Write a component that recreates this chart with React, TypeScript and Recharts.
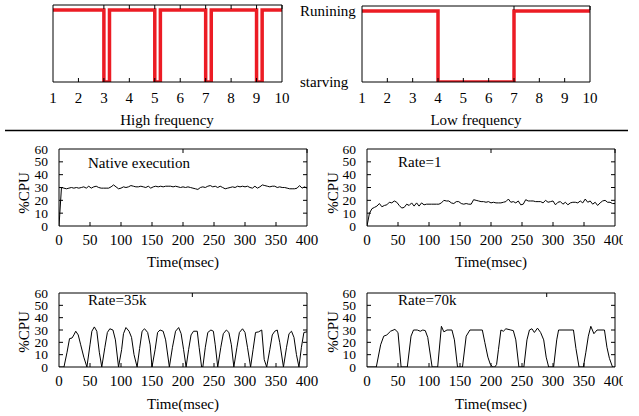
import React from "react";
import { LineChart, Line, XAxis, YAxis } from "recharts";

const FONT = "'Liberation Serif', 'DejaVu Serif', serif";
const INK = "#000";
const RED = "#ec1c24";

// top row: running / starving state traces
const stateTicksX = [1, 2, 3, 4, 5, 6, 7, 8, 9, 10];
const highFreqX = [1, 3, 3.22, 5, 5.22, 7, 7.22, 9, 9.22, 10];
const highFreqState = [1, 0, 1, 0, 1, 0, 1, 0, 1, 1];
const lowFreqX = [1, 4, 7, 10];
const lowFreqState = [1, 0, 1, 1];
const stateTicksY = [0, 1];
const stateNames = ["starving", "Runining"];

// bottom rows: %CPU over time
const timeTicks = [0, 50, 100, 150, 200, 250, 300, 350, 400];
const cpuTicks = [0, 10, 20, 30, 40, 50, 60];

const sampleTimes = [
  0, 4, 8, 12, 16, 20, 24, 28, 32, 36, 40, 44, 48, 52, 56, 60, 64, 68, 72, 76,
  80, 84, 88, 92, 96, 100, 104, 108, 112, 116, 120, 124, 128, 132, 136, 140,
  144, 148, 152, 156, 160, 164, 168, 172, 176, 180, 184, 188, 192, 196, 200,
  204, 208, 212, 216, 220, 224, 228, 232, 236, 240, 244, 248, 252, 256, 260,
  264, 268, 272, 276, 280, 284, 288, 292, 296, 300, 304, 308, 312, 316, 320,
  324, 328, 332, 336, 340, 344, 348, 352, 356, 360, 364, 368, 372, 376, 380,
  384, 388, 392, 396, 400,
];

const nativeCpu = [
  0, 30, 29.5, 29, 29.5, 30, 29.5, 30, 29.5, 30, 30.5, 29.5, 31, 29.5, 30.5,
  31, 30, 29.5, 29.5, 29.5, 29.5, 30.5, 32, 30.5, 29, 29.5, 30.5, 30, 30.5,
  31.5, 31, 30.5, 30.5, 31, 30.5, 30, 31, 29.5, 30.5, 31, 30.5, 31, 30.5, 31,
  31, 31, 30.5, 31, 30.5, 30, 30.5, 30, 30.5, 30, 29.5, 29, 28.5, 30, 30.5, 30,
  31, 31.5, 30.5, 31, 30, 31, 30, 29, 29.5, 30, 30.5, 30, 31, 30.5, 31, 30.5,
  31, 30, 29.5, 31, 29.5, 30.5, 32, 31.5, 31, 30.5, 31, 31, 30, 30.5, 30, 30,
  29.5, 29, 29, 29, 29.5, 31.5, 29.5, 30.5, 29.5,
];

const rate1Cpu = [
  0, 10, 13.5, 14.5, 15.5, 17.5, 15, 16, 16.5, 18.5, 18, 19.5, 18.5, 16, 14,
  14.5, 17, 16, 18, 15.5, 18, 15.5, 18, 16.5, 17, 17, 17, 17, 17, 17, 18, 20,
  19.5, 19.5, 18, 17.5, 19, 19, 17.5, 17, 17.5, 17, 17, 20.5, 20, 19.5, 19, 19,
  18.5, 19, 18, 18.5, 18, 18, 18, 18.5, 19, 21, 18.5, 19, 18, 19.5, 16.5, 17,
  20.5, 19.5, 19.5, 19.5, 19, 19, 19, 18, 20, 18.5, 19, 19.5, 16.5, 18.5, 19,
  17, 18.5, 16.5, 18, 18.5, 18.5, 18, 19.5, 18, 21, 18.5, 19.5, 17, 18.5, 16,
  18, 19.5, 20, 18.5, 18.5, 17.5, 17.5,
];

const rate35kTime = [
  0, 8, 13, 17, 21, 24, 27, 31, 35, 40, 45,
  50, 53, 57, 61, 65, 69,
  74, 78, 82, 87, 91, 96,
  101, 104, 108, 113, 117, 121, 126,
  130, 134, 138, 143, 147, 150,
  155, 159, 163, 168, 172, 178,
  183, 188, 193, 197, 201, 205,
  209, 213, 217, 223, 226, 230, 232,
  236, 240, 245, 249, 252, 256,
  261, 265, 270, 274, 278, 282,
  287, 291, 296, 300, 304, 309,
  313, 317, 322, 327, 331, 335,
  340, 344, 348, 352, 356, 362,
  367, 371, 375, 379, 383, 387,
  391, 395, 400,
];
const rate35kCpu = [
  0, 0, 12, 23, 23.5, 26, 29, 26, 18, 8, 0,
  18, 29, 32.5, 29, 12, 0,
  16, 28, 31, 30, 22, 0,
  14, 27, 32, 29, 24, 10, 0,
  15, 29, 31, 28, 18, 0,
  14, 28, 30, 29, 22, 0,
  16, 29, 32, 27, 14, 0,
  14, 26, 29, 29, 16, 0, 0,
  16, 28, 30, 29, 18, 0,
  16, 27, 30, 28, 18, 0,
  16, 28, 31, 28, 16, 0,
  14, 28, 28.5, 30, 6, 0,
  14, 26, 29, 30, 20, 0,
  16, 27, 29, 24, 10, 0,
  16, 28, 28.5,
];

const rate70kTime = [
  0, 15, 22, 27, 32, 38, 45, 50, 55, 65, 71, 75, 81, 86, 90, 94, 98, 105, 114,
  120, 124, 129, 137, 141, 146, 154, 160, 166, 186, 190, 195, 199, 203, 206,
  209, 212, 216, 220, 224, 232, 236, 240, 245, 253, 258, 262, 266, 270, 275,
  280, 285, 289, 293, 301, 306, 309, 333, 337, 342, 349, 353, 357, 361, 366,
  371, 383, 387, 391, 396, 400,
];
const rate70kCpu = [
  0, 0, 18, 25, 26, 29, 30.5, 28, 0, 0, 25, 30, 30, 29, 30, 29.5, 24, 0, 0,
  33, 28.5, 30, 30, 22, 0, 0, 25, 30, 30, 20, 8, 2, 0, 0,
  2, 14, 30, 29, 31, 30, 29.5, 22, 0, 0, 22, 30, 31, 28, 31.5,
  28, 22, 8, 0, 0, 22, 30, 30, 15, 0, 0, 12, 25, 33, 27,
  30, 30, 16, 7, 0, 0,
];

const rows = (xs: number[], ys: number[], kx: string, ky: string) =>
  xs.map((x, i) => ({ [kx]: x, [ky]: ys[i] }));

const fontStyle = { fontFamily: FONT };

const bottomTick = (lo: number, hi: number, dy: number) => (p: any) => {
  const v = p.payload.value;
  return (
    <g>
      {v !== lo && v !== hi && (
        <line x1={p.x} x2={p.x} y1={p.y} y2={p.y - 4} stroke={INK} />
      )}
      <text x={p.x} y={p.y + dy} textAnchor="middle" fontSize={15} style={fontStyle} fill={INK}>
        {v}
      </text>
    </g>
  );
};

const topTick = (lo: number, hi: number) => (p: any) => {
  const v = p.payload.value;
  if (v === lo || v === hi) return <g />;
  return <line x1={p.x} x2={p.x} y1={p.y} y2={p.y + 4} stroke={INK} />;
};

const leftTick = (lo: number, hi: number) => (p: any) => {
  const v = p.payload.value;
  return (
    <g>
      {v !== lo && v !== hi && (
        <line x1={p.x} x2={p.x + 4} y1={p.y} y2={p.y} stroke={INK} />
      )}
      <text x={p.x - 11} y={p.y + 4.5} textAnchor="end" fontSize={13.5} style={fontStyle} fill={INK}>
        {v}
      </text>
    </g>
  );
};

const rightTick = (lo: number, hi: number) => (p: any) => {
  const v = p.payload.value;
  if (v === lo || v === hi) return <g />;
  return <line x1={p.x} x2={p.x - 4} y1={p.y} y2={p.y} stroke={INK} />;
};

function StatePanel(props: {
  left: number; width: number; padL: number; padR: number; padT: number;
  xs: number[]; ys: number[]; showNames?: boolean;
}) {
  const data = rows(props.xs, props.ys, "x", "s");
  const nameTick = (p: any) => (
    <text x={p.x - props.padL} y={p.y + 5} textAnchor="start" fontSize={15} style={fontStyle} fill={INK}>
      {stateNames[p.payload.value]}
    </text>
  );
  return (
    <div style={{ position: "absolute", left: props.left, top: 0 }}>
      <LineChart width={props.width} height={130} data={data} margin={{ top: 0, right: 0, bottom: 0, left: 0 }}>
        <XAxis dataKey="x" type="number" domain={[1, 10]} ticks={stateTicksX} interval={0}
          height={48} tickSize={0} tickMargin={0} tickLine={false} axisLine={{ stroke: INK }}
          tick={bottomTick(1, 10, 21)} allowDataOverflow />
        <XAxis xAxisId="top" orientation="top" type="number" domain={[1, 10]} ticks={stateTicksX}
          interval={0} height={props.padT} tickSize={0} tickMargin={0} tickLine={false}
          axisLine={{ stroke: INK }} tick={topTick(1, 10)} allowDataOverflow />
        <YAxis type="number" domain={[0, 1.07]} ticks={stateTicksY} interval={0} width={props.padL}
          tickSize={0} tickMargin={0} tickLine={false} axisLine={{ stroke: INK }}
          tick={props.showNames ? nameTick : false} allowDataOverflow />
        <YAxis yAxisId="right" orientation="right" type="number" domain={[0, 1.07]} width={props.padR}
          tickLine={false} tick={false} axisLine={{ stroke: INK }} allowDataOverflow />
        <Line dataKey="s" type="stepAfter" stroke={RED} strokeWidth={3.5} dot={false}
          isAnimationActive={false} />
      </LineChart>
    </div>
  );
}

function CpuPanel(props: {
  left: number; top: number; width: number; height: number;
  padL: number; padR: number; padT: number; padB: number;
  times: number[]; cpu: number[];
}) {
  const data = rows(props.times, props.cpu, "t", "v");
  return (
    <div style={{ position: "absolute", left: props.left, top: props.top }}>
      <LineChart width={props.width} height={props.height} data={data} margin={{ top: 0, right: 0, bottom: 0, left: 0 }}>
        <XAxis dataKey="t" type="number" domain={[0, 400]} ticks={timeTicks} interval={0}
          height={props.padB} tickSize={0} tickMargin={0} tickLine={false} axisLine={{ stroke: INK }}
          tick={bottomTick(0, 400, 19)} allowDataOverflow />
        <XAxis xAxisId="top" orientation="top" type="number" domain={[0, 400]} ticks={timeTicks}
          interval={0} height={props.padT} tickSize={0} tickMargin={0} tickLine={false}
          axisLine={{ stroke: INK }} tick={topTick(0, 400)} allowDataOverflow />
        <YAxis type="number" domain={[0, 60]} ticks={cpuTicks} interval={0} width={props.padL}
          tickSize={0} tickMargin={0} tickLine={false} axisLine={{ stroke: INK }}
          tick={leftTick(0, 60)} allowDataOverflow />
        <YAxis yAxisId="right" orientation="right" type="number" domain={[0, 60]} ticks={cpuTicks}
          interval={0} width={props.padR} tickSize={0} tickMargin={0} tickLine={false}
          axisLine={{ stroke: INK }} tick={rightTick(0, 60)} allowDataOverflow />
        <Line dataKey="v" type="linear" stroke={INK} strokeWidth={1} dot={false}
          isAnimationActive={false} />
      </LineChart>
    </div>
  );
}

const txt = { style: fontStyle, fontSize: 15, fill: INK };

export default function App() {
  return (
    <div style={{ position: "absolute", left: 0, top: 0, width: 639, height: 416, background: "#fff" }}>
      <div style={{ position: "absolute", left: 0, top: 0, width: 623, height: 416, overflow: "hidden" }}>
        <StatePanel left={0} width={300} padL={53} padR={18} padT={5} xs={highFreqX} ys={highFreqState} />
        <StatePanel left={300} width={339} padL={62} padR={49} padT={6} xs={lowFreqX} ys={lowFreqState} showNames />
        <CpuPanel left={0} top={140} width={320} height={140} padL={59} padR={13} padT={9} padB={54}
          times={sampleTimes} cpu={nativeCpu} />
        <CpuPanel left={320} top={140} width={319} height={140} padL={47} padR={24} padT={9} padB={54}
          times={sampleTimes} cpu={rate1Cpu} />
        <CpuPanel left={0} top={280} width={320} height={136} padL={59} padR={13} padT={13} padB={49}
          times={rate35kTime} cpu={rate35kCpu} />
        <CpuPanel left={320} top={280} width={319} height={136} padL={47} padR={24} padT={13} padB={49}
          times={rate70kTime} cpu={rate70kCpu} />
      </div>
      <svg width={639} height={416} style={{ position: "absolute", left: 0, top: 0, pointerEvents: "none" }}>
        <text x={167} y={125} textAnchor="middle" {...txt}>High frequency</text>
        <text x={476} y={125} textAnchor="middle" {...txt}>Low frequency</text>
        <line x1={5} x2={628} y1={130.5} y2={130.5} stroke={INK} strokeWidth={1.3} />
        <text x={88} y={168} {...txt}>Native execution</text>
        <text x={398} y={167} {...txt}>Rate=1</text>
        <text x={88} y={305} {...txt}>Rate=35k</text>
        <text x={398} y={305} {...txt}>Rate=70k</text>
        <text x={183} y={267} textAnchor="middle" {...txt}>Time(msec)</text>
        <text x={491} y={267} textAnchor="middle" {...txt}>Time(msec)</text>
        <text x={183} y={409} textAnchor="middle" {...txt}>Time(msec)</text>
        <text x={491} y={409} textAnchor="middle" {...txt}>Time(msec)</text>
        <text x={28.5} y={193} textAnchor="middle" transform="rotate(-90 28.5 193)" {...txt}>%CPU</text>
        <text x={337.5} y={193} textAnchor="middle" transform="rotate(-90 337.5 193)" {...txt}>%CPU</text>
        <text x={28.5} y={332} textAnchor="middle" transform="rotate(-90 28.5 332)" {...txt}>%CPU</text>
        <text x={337.5} y={332} textAnchor="middle" transform="rotate(-90 337.5 332)" {...txt}>%CPU</text>
      </svg>
    </div>
  );
}
